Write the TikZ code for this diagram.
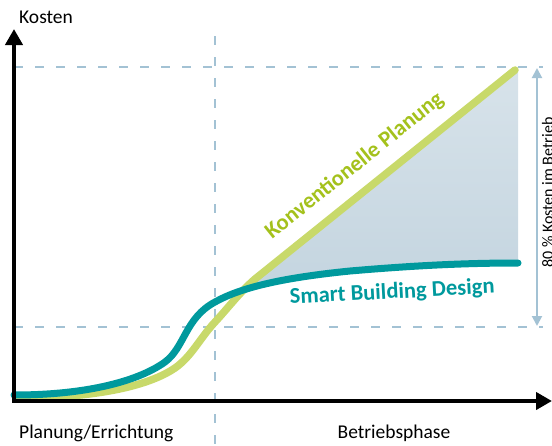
\documentclass[tikz,border=0pt]{standalone}
\usepackage{fontspec}
\setmainfont{Carlito}
\usetikzlibrary{arrows.meta}
\definecolor{lgreen}{HTML}{C8D96A}
\definecolor{dgreen}{HTML}{A4C11C}
\definecolor{tealc}{HTML}{00999D}
\definecolor{dashc}{HTML}{A3C2D4}
\definecolor{filltop}{HTML}{D9E4EB}
\definecolor{fillbot}{HTML}{C3D4DF}
\begin{document}
\begin{tikzpicture}[x=1pt,y=-1pt,
  axisline/.style={line width=4pt,black,line join=miter,
    {Triangle[width=17pt,length=16pt]}-{Triangle[width=17pt,length=16pt]}},
  dashline/.style={dashc,line width=1.6pt,dash pattern=on 9pt off 12pt},
  greenline/.style={lgreen,line width=7.5pt,line cap=round},
  tealline/.style={tealc,line width=7pt,line cap=round},
  dimarrow/.style={dashc,line width=2pt,
    {Triangle[width=10pt,length=10pt]}-{Triangle[width=10pt,length=10pt]}},
  lbl/.style={inner sep=0pt,font=\fontsize{19.5}{23}\selectfont},
  boldg/.style={inner sep=0pt,text=dgreen,font=\fontsize{22.5}{26}\selectfont\bfseries},
  boldt/.style={inner sep=0pt,text=tealc,font=\fontsize{22.5}{26}\selectfont\bfseries},
  smalllbl/.style={inner sep=0pt,font=\fontsize{16}{19}\selectfont}]
\useasboundingbox (0,0) rectangle (552,445);

\coordinate (O) at (14,401);
\coordinate (Ytip) at (14,29);
\coordinate (Xtip) at (552,401);

% shaded savings area
\begin{scope}
  \clip (200,323) -- (518,67.5) -- (518,420) -- (200,420) -- cycle;
  \shade[top color=filltop,bottom color=fillbot]
    (215,302) .. controls (240,288) and (280,278) .. (350,271)
    .. controls (420,265) and (470,263) .. (518,263) -- (518,50) -- (215,50) -- cycle;
\end{scope}

% dashed guides
\coordinate (hT0) at (14,67);   \coordinate (hT1) at (543,67);
\coordinate (hB0) at (14,327);  \coordinate (hB1) at (543,327);
\coordinate (v0) at (215,36);   \coordinate (v1) at (215,445);
\draw[dashline] (hT0) -- (hT1);
\draw[dashline] (hB0) -- (hB1);
\draw[dashline] (v0) -- (v1);

% dimension arrow
\coordinate (dA) at (537,68);
\coordinate (dB) at (537,326);
\draw[dimarrow] (dA) -- (dB);

% curves
\draw[greenline] (16,398) .. controls (100,398) and (150,385) .. (175,368)
  .. controls (192,356) and (200,338) .. (215,322)
  .. controls (228,308) and (240,292) .. (255,279) -- (515,70);
\draw[tealline] (14,395) .. controls (90,395) and (140,380) .. (165,362)
  .. controls (185,347) and (185,318) .. (215,302)
  .. controls (240,288) and (280,278) .. (350,271)
  .. controls (420,265) and (470,263) .. (518,263);

% axes
\draw[axisline] (Ytip) -- (O) -- (Xtip);

% labels
\node[lbl,anchor=base west] (kosten) at (19,23) {Kosten};
\node[lbl,anchor=base west] (plan) at (19,438) {Planung/Errichtung};
\node[lbl,anchor=base] (betrieb) at (394,438) {Betriebsphase};
\node[boldg,rotate=38.7,anchor=base west] (konv) at (272,240) {Konventionelle Planung};
\node[boldt,rotate=3,anchor=base west] (sbd) at (290,304) {Smart Building Design};
\node[smalllbl,rotate=90,anchor=base west] (pct) at (553,268) {80 \% Kosten im Betrieb};
\end{tikzpicture}
\end{document}
